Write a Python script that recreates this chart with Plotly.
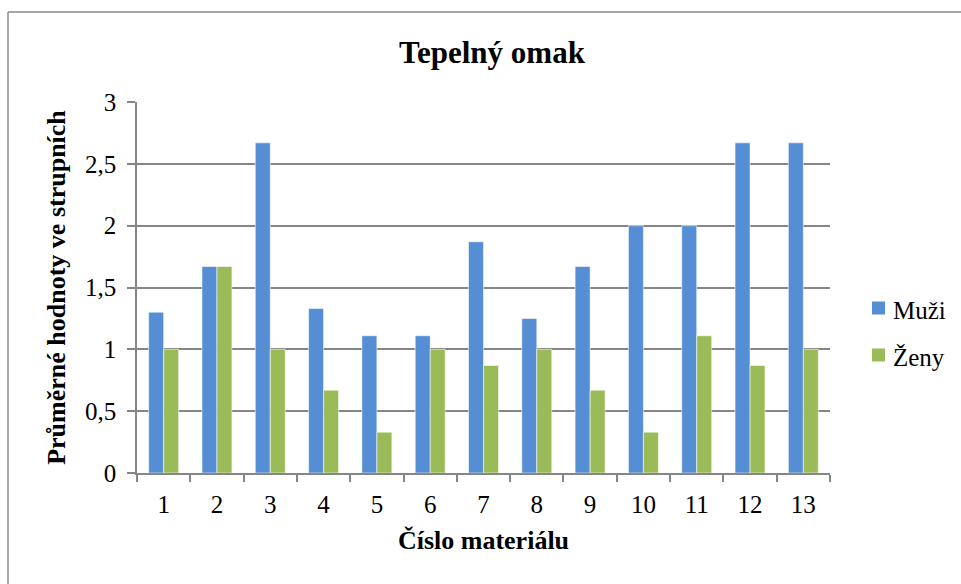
import plotly.graph_objects as go

categories = [str(i) for i in range(1, 14)]
muzi = [1.30, 1.67, 2.67, 1.33, 1.11, 1.11, 1.87, 1.25, 1.67, 2.00, 2.00, 2.67, 2.67]
zeny = [1.00, 1.67, 1.00, 0.67, 0.33, 1.00, 0.87, 1.00, 0.67, 0.33, 1.11, 0.87, 1.00]
series_names = ["Muži", "Ženy"]
colors = ["#558ED5", "#9BBB59"]

FONT = "Liberation Serif"
L, R, T, B = 137, 131, 102, 111
W, H = 961, 584
pw, ph = W - L - R, H - T - B

fig = go.Figure()
for name, vals, col in zip(series_names, [muzi, zeny], colors):
    fig.add_trace(go.Bar(
        x=categories, y=vals, name=name,
        marker=dict(color=col, line=dict(color="rgba(255,255,255,0.55)", width=1)),
    ))

def px(x):
    return (x - L) / pw

def py(y):
    return (H - B - y) / ph

legend_rows = [308, 355]
shapes = [
    dict(type="line", xref="paper", yref="paper", x0=px(8), x1=px(8), y0=py(600), y1=py(12),
         line=dict(color="#8a8a8a", width=1.5)),
    dict(type="line", xref="paper", yref="paper", x0=px(8), x1=px(980), y0=py(12), y1=py(12),
         line=dict(color="#8a8a8a", width=1.5)),
]
annotations = []
for name, col, yc in zip(series_names, colors, legend_rows):
    shapes.append(dict(type="rect", xref="paper", yref="paper",
                       x0=px(872), x1=px(885), y0=py(yc + 6.5), y1=py(yc - 6.5),
                       fillcolor=col, line=dict(width=0)))
    annotations.append(dict(text=name, xref="paper", yref="paper", x=px(891), y=py(yc + 2),
                            xanchor="left", yanchor="middle", showarrow=False,
                            font=dict(family=FONT, size=25, color="black")))

fig.update_layout(
    template="none",
    width=W, height=H,
    margin=dict(l=L, r=R, t=T, b=B, autoexpand=False),
    paper_bgcolor="white", plot_bgcolor="white",
    separators=", ",
    barmode="group", bargap=0.4375, bargroupgap=0,
    font=dict(family=FONT, color="black", size=25),
    title=dict(text="<b>Tepelný omak</b>", font=dict(family=FONT, size=31, color="black"),
               x=492 / W, xref="container", xanchor="center",
               y=1 - 52 / H, yref="container", yanchor="middle"),
    showlegend=False,
    xaxis=dict(type="category", tickson="boundaries", ticks="outside", ticklen=7,
               tickcolor="#868686", tickwidth=1.5,
               showline=True, linecolor="#868686", linewidth=1.5,
               showgrid=False, ticklabelstandoff=8,
               tickfont=dict(family=FONT, size=25, color="black"),
               title=dict(text="<b>Číslo materiálu</b>", font=dict(family=FONT, size=26, color="black"),
                          standoff=14)),
    yaxis=dict(range=[0, 3], dtick=0.5, tick0=0, ticks="outside", ticklen=8,
               tickcolor="#868686", tickwidth=1.5,
               showline=True, linecolor="#868686", linewidth=1.5,
               showgrid=True, gridcolor="#868686", gridwidth=1.5, zeroline=False,
               ticklabelstandoff=6,
               tickfont=dict(family=FONT, size=25, color="black"),
               title=dict(text="<b>Průměrné hodnoty ve strupních</b>",
                          font=dict(family=FONT, size=26, color="black"), standoff=12)),
    shapes=shapes,
    annotations=annotations,
)

fig.write_html("out.html")
